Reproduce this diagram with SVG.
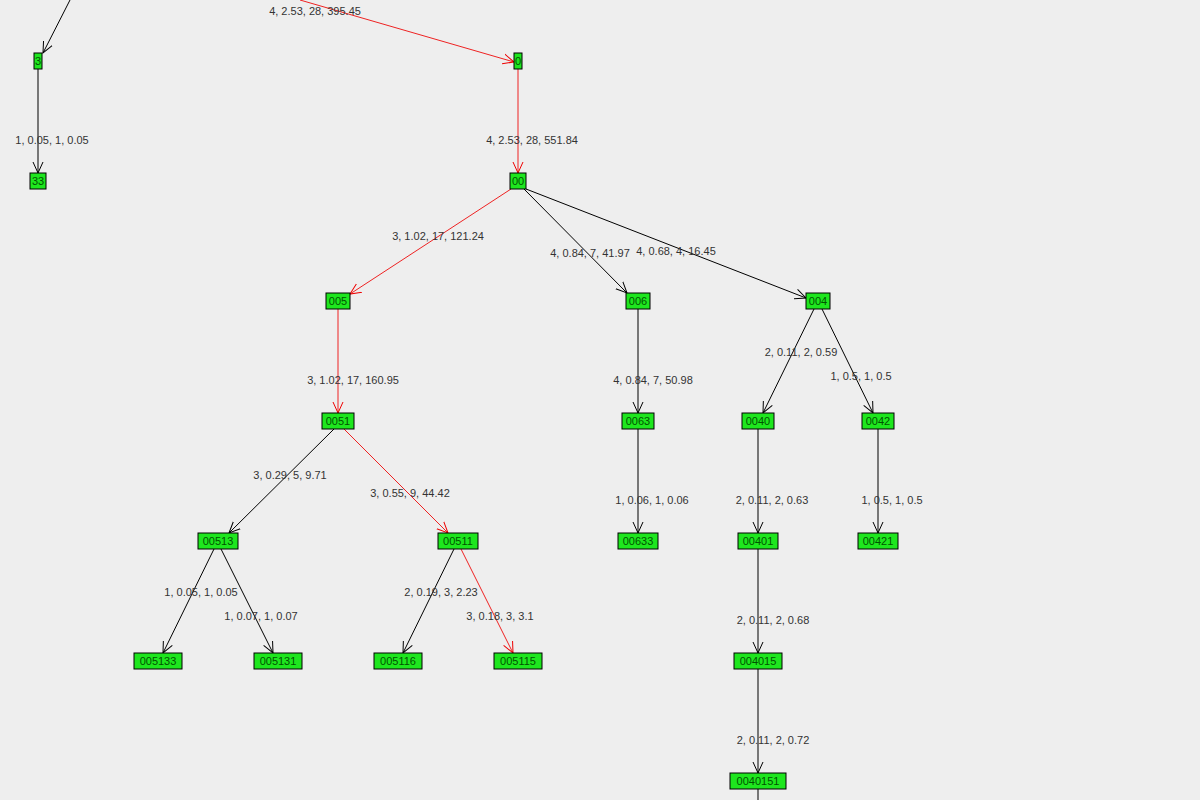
<svg xmlns="http://www.w3.org/2000/svg" width="1200" height="800" viewBox="0 0 1200 800">
<defs>
<marker id="ab" viewBox="0 0 12 12" refX="11" refY="6" markerWidth="12" markerHeight="12" markerUnits="userSpaceOnUse" orient="auto"><path d="M0,1 L11,6 L0,11" fill="none" stroke="#000" stroke-width="1"/></marker>
<marker id="ar" viewBox="0 0 12 12" refX="11" refY="6" markerWidth="12" markerHeight="12" markerUnits="userSpaceOnUse" orient="auto"><path d="M0,1 L11,6 L0,11" fill="none" stroke="#e00" stroke-width="1"/></marker>
<style>
.n rect{fill:#1ee61e;stroke:#000;stroke-width:1}
.n text{font-family:"Liberation Sans",Arial,sans-serif;font-size:11px;fill:#005500;text-anchor:middle}
.e line{stroke:#000;stroke-width:1;marker-end:url(#ab)}
.e line.r{stroke:#e22;marker-end:url(#ar)}
.l{font-family:"Liberation Sans",Arial,sans-serif;font-size:11px;fill:#333;text-anchor:middle}
</style>
</defs>
<rect width="1200" height="800" fill="#eeeeee"/>
<g id="connectors" class="e">
<line x1="70" y1="0" x2="43" y2="53"/>
<line class="r" x1="300" y1="0" x2="514" y2="62"/>
<line x1="38" y1="69" x2="38" y2="173"/>
<line class="r" x1="518" y1="69" x2="518" y2="173"/>
<line class="r" x1="511" y1="189" x2="350" y2="294"/>
<line x1="524" y1="189" x2="627" y2="293"/>
<line x1="526" y1="189" x2="806" y2="298"/>
<line class="r" x1="338" y1="309" x2="338" y2="413"/>
<line x1="638" y1="309" x2="638" y2="413"/>
<line x1="814" y1="309" x2="763" y2="413"/>
<line x1="822" y1="309" x2="873" y2="413"/>
<line x1="334" y1="429" x2="229" y2="533"/>
<line class="r" x1="344" y1="429" x2="448" y2="533"/>
<line x1="638" y1="429" x2="638" y2="533"/>
<line x1="758" y1="429" x2="758" y2="533"/>
<line x1="878" y1="429" x2="878" y2="533"/>
<line x1="214" y1="549" x2="163" y2="653"/>
<line x1="221" y1="549" x2="273" y2="653"/>
<line x1="454" y1="549" x2="403" y2="653"/>
<line class="r" x1="461" y1="549" x2="513" y2="653"/>
<line x1="758" y1="549" x2="758" y2="653"/>
<line x1="758" y1="669" x2="758" y2="773"/>
<line x1="758" y1="789" x2="758" y2="800" style="marker-end:none"/>
</g>
<g id="labels">
<text class="l" x="315" y="15">4, 2.53, 28, 395.45</text>
<text class="l" x="52" y="144">1, 0.05, 1, 0.05</text>
<text class="l" x="532" y="144">4, 2.53, 28, 551.84</text>
<text class="l" x="438" y="240">3, 1.02, 17, 121.24</text>
<text class="l" x="590" y="257">4, 0.84, 7, 41.97</text>
<text class="l" x="676" y="255">4, 0.68, 4, 16.45</text>
<text class="l" x="353" y="384">3, 1.02, 17, 160.95</text>
<text class="l" x="653" y="384">4, 0.84, 7, 50.98</text>
<text class="l" x="801" y="356">2, 0.11, 2, 0.59</text>
<text class="l" x="861" y="380">1, 0.5, 1, 0.5</text>
<text class="l" x="290" y="479">3, 0.29, 5, 9.71</text>
<text class="l" x="410" y="497">3, 0.55, 9, 44.42</text>
<text class="l" x="652" y="504">1, 0.06, 1, 0.06</text>
<text class="l" x="772" y="504">2, 0.11, 2, 0.63</text>
<text class="l" x="892" y="504">1, 0.5, 1, 0.5</text>
<text class="l" x="201" y="596">1, 0.05, 1, 0.05</text>
<text class="l" x="261" y="620">1, 0.07, 1, 0.07</text>
<text class="l" x="441" y="596">2, 0.19, 3, 2.23</text>
<text class="l" x="500" y="620">3, 0.18, 3, 3.1</text>
<text class="l" x="773" y="624">2, 0.11, 2, 0.68</text>
<text class="l" x="773" y="744">2, 0.11, 2, 0.72</text>
</g>
<g id="n3" class="n"><rect x="34" y="53" width="8" height="16"/><text x="38" y="65">3</text></g>
<g id="n0" class="n"><rect x="514" y="53" width="8" height="16"/><text x="518" y="65">0</text></g>
<g id="n33" class="n"><rect x="30" y="173" width="16" height="16"/><text x="38" y="185">33</text></g>
<g id="n00" class="n"><rect x="510" y="173" width="16" height="16"/><text x="518" y="185">00</text></g>
<g id="n005" class="n"><rect x="326" y="293" width="24" height="16"/><text x="338" y="305">005</text></g>
<g id="n006" class="n"><rect x="626" y="293" width="24" height="16"/><text x="638" y="305">006</text></g>
<g id="n004" class="n"><rect x="806" y="293" width="24" height="16"/><text x="818" y="305">004</text></g>
<g id="n0051" class="n"><rect x="322" y="413" width="32" height="16"/><text x="338" y="425">0051</text></g>
<g id="n0063" class="n"><rect x="622" y="413" width="32" height="16"/><text x="638" y="425">0063</text></g>
<g id="n0040" class="n"><rect x="742" y="413" width="32" height="16"/><text x="758" y="425">0040</text></g>
<g id="n0042" class="n"><rect x="862" y="413" width="32" height="16"/><text x="878" y="425">0042</text></g>
<g id="n00513" class="n"><rect x="198" y="533" width="40" height="16"/><text x="218" y="545">00513</text></g>
<g id="n00511" class="n"><rect x="438" y="533" width="40" height="16"/><text x="458" y="545">00511</text></g>
<g id="n00633" class="n"><rect x="618" y="533" width="40" height="16"/><text x="638" y="545">00633</text></g>
<g id="n00401" class="n"><rect x="738" y="533" width="40" height="16"/><text x="758" y="545">00401</text></g>
<g id="n00421" class="n"><rect x="858" y="533" width="40" height="16"/><text x="878" y="545">00421</text></g>
<g id="n005133" class="n"><rect x="134" y="653" width="48" height="16"/><text x="158" y="665">005133</text></g>
<g id="n005131" class="n"><rect x="254" y="653" width="48" height="16"/><text x="278" y="665">005131</text></g>
<g id="n005116" class="n"><rect x="374" y="653" width="48" height="16"/><text x="398" y="665">005116</text></g>
<g id="n005115" class="n"><rect x="494" y="653" width="48" height="16"/><text x="518" y="665">005115</text></g>
<g id="n004015" class="n"><rect x="734" y="653" width="48" height="16"/><text x="758" y="665">004015</text></g>
<g id="n0040151" class="n"><rect x="730" y="773" width="56" height="16"/><text x="758" y="785">0040151</text></g>
</svg>
